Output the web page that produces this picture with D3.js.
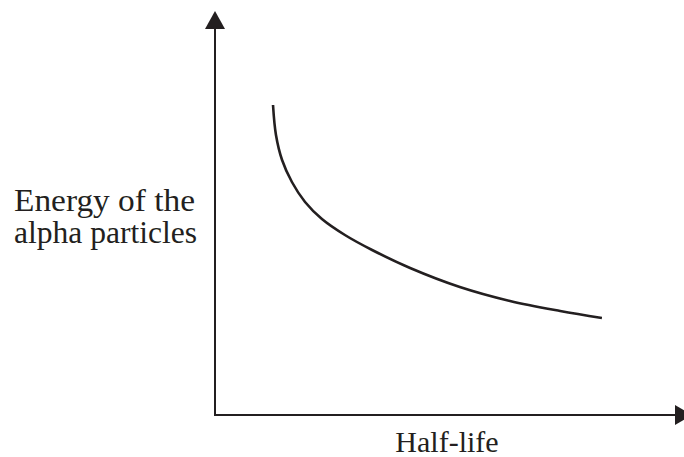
<!DOCTYPE html>
<html>
<head>
<meta charset="utf-8">
<script src="https://cdn.jsdelivr.net/npm/d3@7"></script>
<style>
  html, body { margin: 0; padding: 0; background: #fff; }
  svg { display: block; }
</style>
</head>
<body>
<svg id="chart" width="684" height="457"></svg>
<script>
// Data (arbitrary units)
const halfLife = [12.37, 13.0, 14.3, 16.4, 19.2, 22.8, 27.7, 33.5, 41.6, 52.2, 62.9, 73.6, 82.5];
const energy   = [77.5, 70.0, 63.75, 58.25, 53.25, 49.0, 45.0, 41.25, 36.75, 32.0, 28.5, 26.0, 24.25];
const yLabelLines = ["Energy of the", "alpha particles"];
const xLabel = "Half-life";

const svg = d3.select("#chart");
const ox = 215, oy = 415;
const x = d3.scaleLinear().domain([0, 100]).range([ox, 684]);
const y = d3.scaleLinear().domain([0, 100]).range([oy, 15]);

const ink = "#231f20";

// axes
svg.append("line").attr("x1", ox).attr("y1", oy).attr("x2", ox).attr("y2", 28)
  .attr("stroke", ink).attr("stroke-width", 2);
svg.append("line").attr("x1", ox - 1).attr("y1", oy).attr("x2", 676).attr("y2", oy)
  .attr("stroke", ink).attr("stroke-width", 2);
// arrowheads
svg.append("path").attr("d", `M${ox},11 L${ox - 10},29 L${ox + 10},29 Z`).attr("fill", ink);
svg.append("path").attr("d", `M692,${oy} L675,${oy - 10} L675,${oy + 10} Z`).attr("fill", ink);

// curve
const pts = halfLife.map((h, i) => [h, energy[i]]);
svg.append("path")
  .datum(pts)
  .attr("fill", "none")
  .attr("stroke", ink)
  .attr("stroke-width", 2.6)
  .attr("stroke-linecap", "butt")
  .attr("d", d3.line().x(d => x(d[0])).y(d => y(d[1])).curve(d3.curveCatmullRom.alpha(0.5)));

// labels
const font = "'Liberation Serif', 'Times New Roman', serif";
const widths = [181, 183];
svg.append("text").attr("x", 14).attr("y", 211)
  .attr("font-family", font).attr("font-size", 31).attr("fill", ink)
  .selectAll("tspan").data(yLabelLines).join("tspan")
  .attr("x", 14).attr("dy", (d, i) => i === 0 ? 0 : 32)
  .attr("textLength", (d, i) => widths[i]).attr("lengthAdjust", "spacingAndGlyphs")
  .text(d => d);

svg.append("text").attr("x", 447).attr("y", 452).attr("text-anchor", "middle")
  .attr("font-family", font).attr("font-size", 30).attr("fill", ink).text(xLabel);
</script>
</body>
</html>
